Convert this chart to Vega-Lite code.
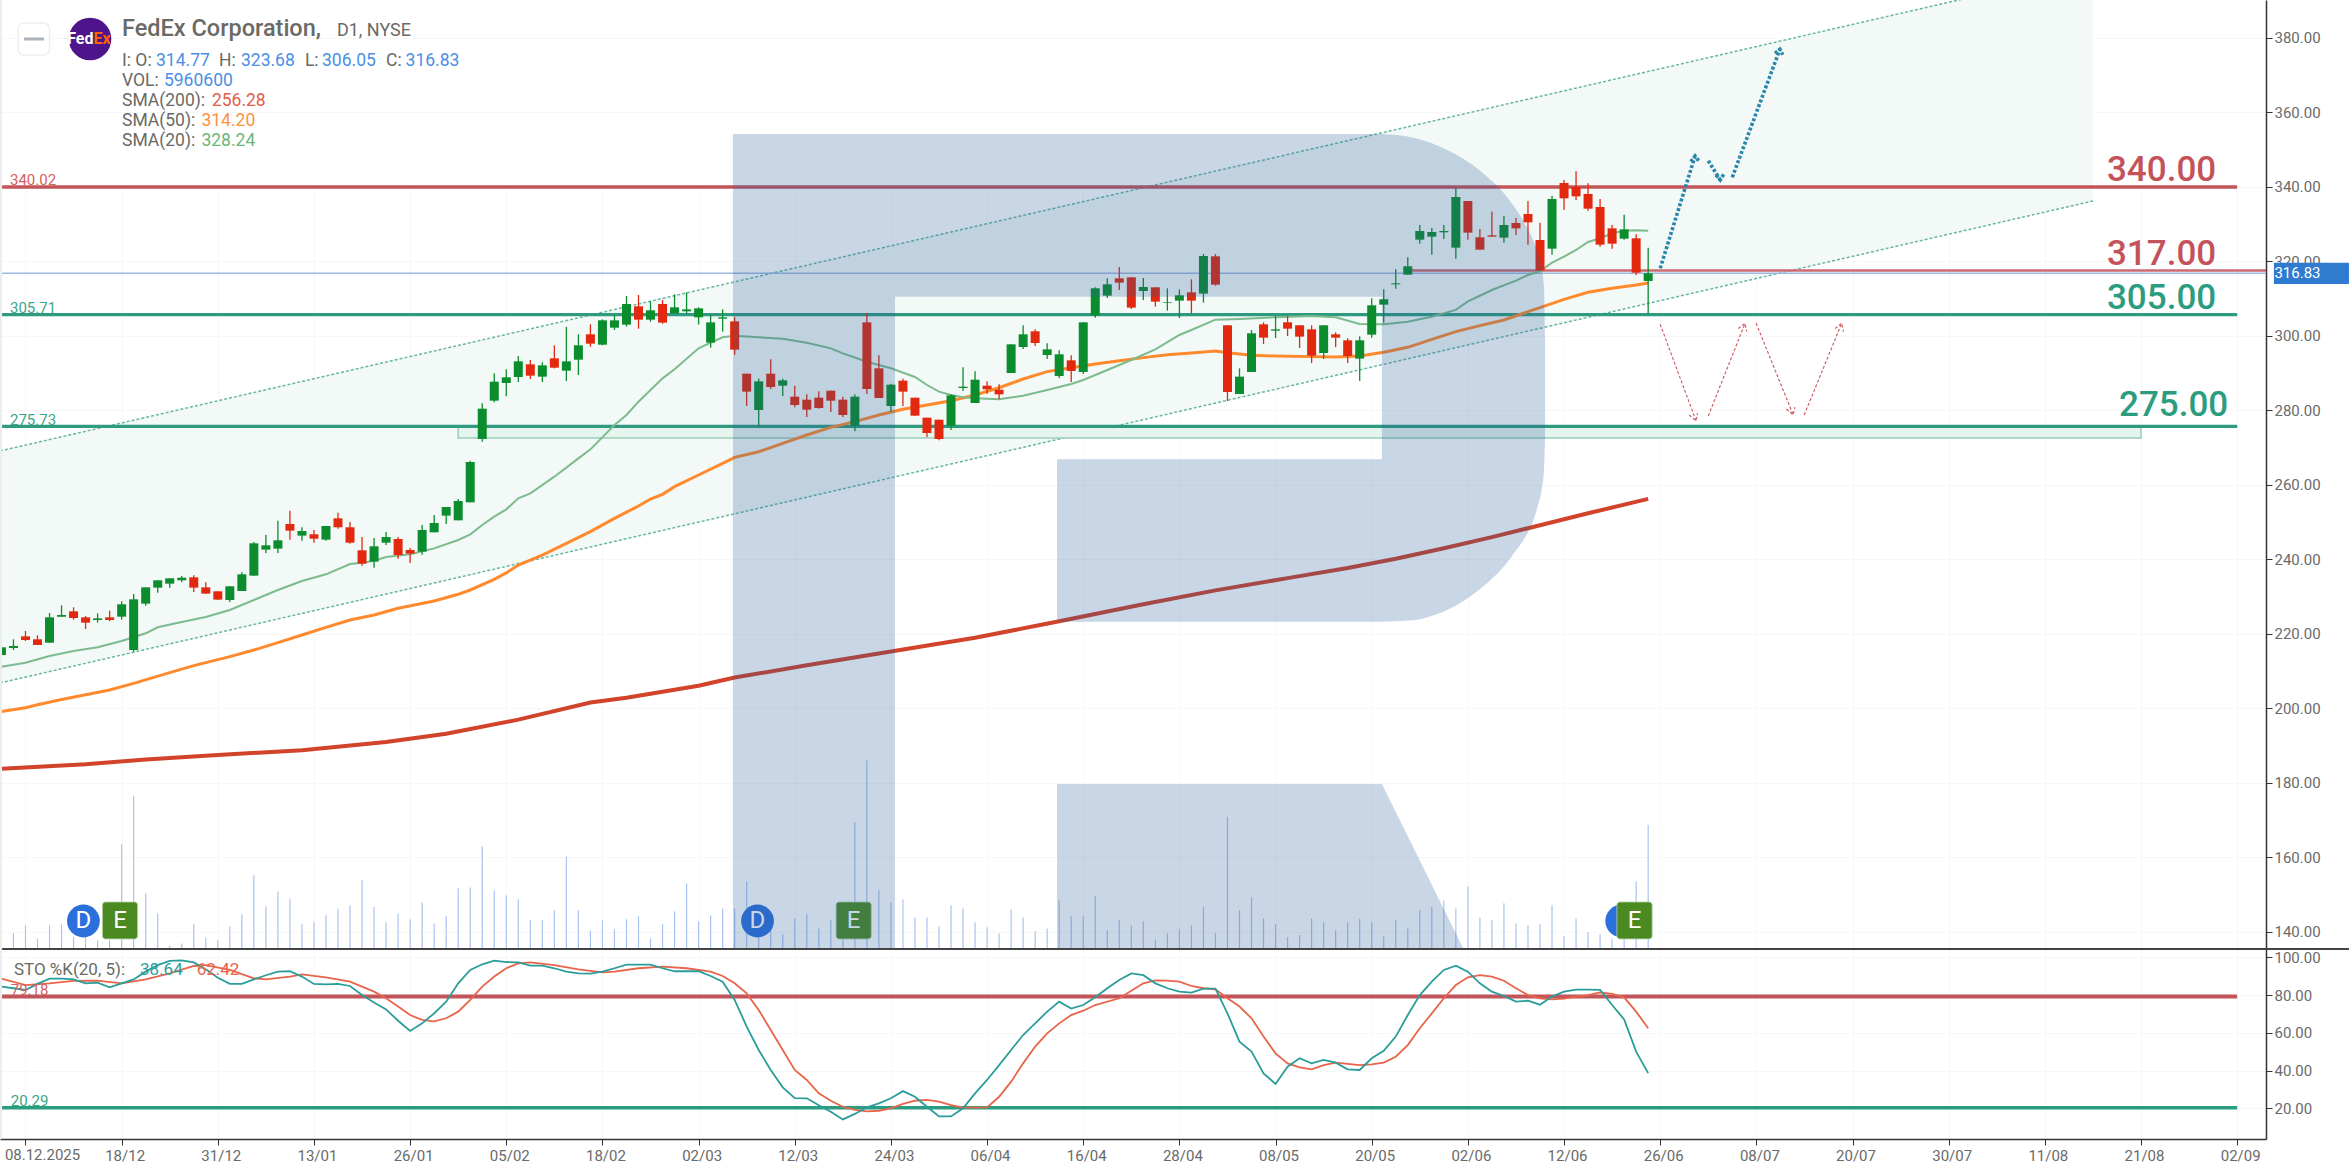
{
  "$schema": "https://vega.github.io/schema/vega-lite/v6.json",
  "autosize": {"type": "none"},
  "padding": {"left": 0, "top": 0, "right": 83, "bottom": 24},
  "background": "white",
  "width": 2266,
  "height": 1139,
  "config": {
    "view": {"stroke": null},
    "text": {"font": "Roboto"},
    "axis": {"labelFont": "Roboto", "labelFontSize": 15, "labelColor": "#6a6a6a", "domainColor": "#333333", "tickColor": "#333333", "gridColor": "#f7f7f7", "domainWidth": 1.5, "tickSize": 6}
  },
  "datasets": {
    "candles": [
      {"i":-2,"o":214.36,"h":216.6,"l":214.2,"c":216.42},
      {"i":-1,"o":216.24,"h":218.57,"l":215.7,"c":216.78,"v":0.77},
      {"i":0,"o":219.37,"h":220.81,"l":218.12,"c":218.39,"v":1.14},
      {"i":1,"o":218.57,"h":219.64,"l":217.05,"c":217.05,"v":0.5},
      {"i":2,"o":217.67,"h":225.64,"l":217.67,"c":224.47,"v":1.14},
      {"i":3,"o":224.65,"h":227.69,"l":224.65,"c":225.1,"v":1.18},
      {"i":4,"o":226.08,"h":227.16,"l":223.85,"c":224.29,"v":0.58},
      {"i":5,"o":224.47,"h":224.83,"l":221.34,"c":223.04,"v":1.06},
      {"i":6,"o":223.75,"h":225.55,"l":223.04,"c":224.2,"v":0.42},
      {"i":7,"o":224.47,"h":226.26,"l":223.49,"c":223.75,"v":0.42},
      {"i":8,"o":224.65,"h":228.77,"l":223.85,"c":227.96,"v":5.03},
      {"i":9,"o":215.7,"h":230.74,"l":215.25,"c":229.3,"v":7.34},
      {"i":10,"o":228.14,"h":232.52,"l":227.6,"c":232.52,"v":2.66},
      {"i":11,"o":232.44,"h":234.41,"l":231.09,"c":234.41,"v":1.7},
      {"i":12,"o":233.51,"h":234.94,"l":232.44,"c":234.94,"v":0.16},
      {"i":13,"o":234.41,"h":235.57,"l":233.87,"c":235.12,"v":0.26},
      {"i":14,"o":235.21,"h":235.75,"l":231.28,"c":232.44,"v":1.19},
      {"i":15,"o":232.52,"h":233.87,"l":230.83,"c":230.83,"v":0.54},
      {"i":16,"o":231.45,"h":231.45,"l":229.22,"c":229.22,"v":0.42},
      {"i":17,"o":229.13,"h":232.8,"l":228.59,"c":232.8,"v":1.09},
      {"i":18,"o":231.54,"h":236.55,"l":231.54,"c":236.02,"v":1.67},
      {"i":19,"o":235.66,"h":244.7,"l":235.66,"c":244.34,"v":3.54},
      {"i":20,"o":242.64,"h":246.58,"l":241.75,"c":243.8,"v":2.05},
      {"i":21,"o":242.91,"h":250.42,"l":241.75,"c":245.15,"v":2.77},
      {"i":22,"o":249.53,"h":253.11,"l":245.32,"c":247.74,"v":2.42},
      {"i":23,"o":246.4,"h":248.64,"l":245.06,"c":247.65,"v":1.19},
      {"i":24,"o":246.76,"h":247.92,"l":244.52,"c":245.59,"v":1.28},
      {"i":25,"o":245.32,"h":248.99,"l":245.06,"c":248.99,"v":1.62},
      {"i":26,"o":251.05,"h":252.57,"l":248.28,"c":248.64,"v":1.94},
      {"i":27,"o":248.64,"h":250.07,"l":244.25,"c":244.52,"v":2.1},
      {"i":28,"o":242.46,"h":246.04,"l":238.35,"c":238.88,"v":3.3},
      {"i":29,"o":239.42,"h":245.77,"l":237.81,"c":243.54,"v":2.02},
      {"i":30,"o":244.52,"h":247.38,"l":243.89,"c":246.04,"v":1.28},
      {"i":31,"o":245.5,"h":246.04,"l":240.22,"c":241.21,"v":1.7},
      {"i":32,"o":242.55,"h":243.09,"l":239.06,"c":241.57,"v":1.43},
      {"i":33,"o":242.1,"h":249.26,"l":241.3,"c":247.92,"v":2.24},
      {"i":34,"o":247.29,"h":251.95,"l":247.29,"c":249.8,"v":1.23},
      {"i":35,"o":251.77,"h":254.09,"l":249.53,"c":254.09,"v":1.57},
      {"i":36,"o":250.51,"h":256.24,"l":250.51,"c":255.7,"v":2.92},
      {"i":37,"o":255.35,"h":266.53,"l":255.35,"c":266.17,"v":2.96},
      {"i":38,"o":272.35,"h":281.92,"l":271.63,"c":280.49,"v":4.94},
      {"i":39,"o":282.64,"h":289.98,"l":282.19,"c":287.74,"v":2.82},
      {"i":40,"o":287.38,"h":291.05,"l":283.8,"c":288.9,"v":2.58},
      {"i":41,"o":288.99,"h":294.63,"l":287.65,"c":293.2,"v":2.39},
      {"i":42,"o":292.39,"h":293.55,"l":288.45,"c":289.35,"v":1.38},
      {"i":43,"o":289.08,"h":292.93,"l":287.65,"c":292.12,"v":1.38},
      {"i":44,"o":294,"h":297.49,"l":291.32,"c":291.49,"v":1.86},
      {"i":45,"o":290.69,"h":302.41,"l":287.91,"c":293.19,"v":4.45},
      {"i":46,"o":293.64,"h":300.44,"l":289.53,"c":297.49,"v":1.86},
      {"i":47,"o":300.44,"h":303.13,"l":297.13,"c":297.94,"v":0.9},
      {"i":48,"o":297.67,"h":304.47,"l":297.49,"c":304.2,"v":1.38},
      {"i":49,"o":302.23,"h":305.63,"l":301.61,"c":304.2,"v":0.95},
      {"i":50,"o":303.04,"h":310.73,"l":302.5,"c":308.59,"v":1.43},
      {"i":51,"o":307.96,"h":311,"l":301.96,"c":304.38,"v":1.57},
      {"i":52,"o":304.38,"h":309.3,"l":303.84,"c":306.89,"v":0.51},
      {"i":53,"o":308.59,"h":309.66,"l":303.31,"c":303.58,"v":1.19},
      {"i":54,"o":306.08,"h":311.18,"l":306.08,"c":307.69,"v":1.81},
      {"i":55,"o":306.62,"h":311.72,"l":306.08,"c":307.15,"v":3.16},
      {"i":56,"o":305.01,"h":307.69,"l":303.04,"c":307.42,"v":1.33},
      {"i":57,"o":298.21,"h":305.72,"l":296.86,"c":303.66,"v":1.62},
      {"i":58,"o":304.65,"h":307.15,"l":301.16,"c":305.01,"v":1.95},
      {"i":59,"o":303.93,"h":305.01,"l":294.98,"c":296.33,"v":1.95},
      {"i":60,"o":289.88,"h":289.88,"l":281.2,"c":285.05,"v":3.25},
      {"i":61,"o":280.13,"h":288.54,"l":275.83,"c":287.83,"v":1.22},
      {"i":62,"o":289.88,"h":293.73,"l":285.77,"c":286.3,"v":0.96},
      {"i":63,"o":286.66,"h":288.54,"l":283.89,"c":288.09,"v":0.71},
      {"i":64,"o":283.71,"h":286.66,"l":280.84,"c":281.47,"v":1.47},
      {"i":65,"o":282.9,"h":284.33,"l":278.25,"c":280.22,"v":1.67},
      {"i":66,"o":283.44,"h":285.14,"l":280.49,"c":280.67,"v":0.99},
      {"i":67,"o":285.32,"h":285.32,"l":279.59,"c":282.63,"v":1.38},
      {"i":68,"o":282.9,"h":283.71,"l":278.25,"c":278.79,"v":1.38},
      {"i":69,"o":275.92,"h":284.33,"l":274.4,"c":283.71,"v":6.09},
      {"i":70,"o":303.66,"h":306.08,"l":284.42,"c":285.77,"v":9.07},
      {"i":71,"o":291.32,"h":294.81,"l":283.35,"c":283.35,"v":2.82},
      {"i":72,"o":281.2,"h":287.2,"l":279.59,"c":286.93,"v":2.24},
      {"i":73,"o":288,"h":288.54,"l":281.2,"c":285.05,"v":2.39},
      {"i":74,"o":283.44,"h":283.44,"l":278.61,"c":278.61,"v":1.52},
      {"i":75,"o":278.07,"h":278.07,"l":272.88,"c":273.95,"v":1.52},
      {"i":76,"o":277.53,"h":277.53,"l":271.99,"c":272.34,"v":1.09},
      {"i":77,"o":275.92,"h":284.33,"l":274.76,"c":284.07,"v":2.1},
      {"i":78,"o":286.03,"h":291.58,"l":285.23,"c":286.39,"v":1.95},
      {"i":79,"o":282.01,"h":290.51,"l":282.01,"c":288.27,"v":1.28},
      {"i":80,"o":286.66,"h":287.83,"l":284.51,"c":285.68,"v":1.04},
      {"i":81,"o":285.59,"h":287.02,"l":282.99,"c":284.33,"v":0.75},
      {"i":82,"o":290.07,"h":297.76,"l":290.07,"c":297.76,"v":1.91},
      {"i":83,"o":297.05,"h":302.87,"l":296.51,"c":300.45,"v":1.52},
      {"i":84,"o":301.26,"h":301.79,"l":297.32,"c":298.12,"v":0.85},
      {"i":85,"o":294.9,"h":298.03,"l":293.83,"c":296.42,"v":0.99},
      {"i":86,"o":289.26,"h":296.15,"l":288.73,"c":295.08,"v":2.34},
      {"i":87,"o":293.47,"h":294.81,"l":287.65,"c":290.61,"v":1.57},
      {"i":88,"o":290.34,"h":303.67,"l":289.8,"c":303.67,"v":1.57},
      {"i":89,"o":305.55,"h":313.07,"l":304.92,"c":312.8,"v":2.53},
      {"i":90,"o":310.83,"h":315.48,"l":310.2,"c":313.87,"v":0.9},
      {"i":91,"o":315.48,"h":318.53,"l":312.35,"c":314.32,"v":1.38},
      {"i":92,"o":315.75,"h":315.75,"l":307.25,"c":307.61,"v":1.14},
      {"i":93,"o":312.08,"h":315.57,"l":309.67,"c":313.16,"v":1.33},
      {"i":94,"o":313.07,"h":313.07,"l":307.88,"c":309.22,"v":0.46},
      {"i":95,"o":308.95,"h":312.8,"l":306.8,"c":309.13,"v":0.75},
      {"i":96,"o":309.49,"h":312.53,"l":304.83,"c":310.92,"v":0.95},
      {"i":97,"o":311.73,"h":315.22,"l":306.09,"c":309.49,"v":1.14},
      {"i":98,"o":311.37,"h":322.02,"l":308.95,"c":321.48,"v":2.02},
      {"i":99,"o":321.39,"h":322.02,"l":313.52,"c":313.78,"v":0.77},
      {"i":100,"o":302.87,"h":302.87,"l":282.55,"c":284.97,"v":6.35},
      {"i":101,"o":284.43,"h":291.32,"l":284.43,"c":289.08,"v":1.86},
      {"i":102,"o":290.34,"h":301.61,"l":290.34,"c":300.72,"v":2.48},
      {"i":103,"o":303.13,"h":303.67,"l":297.85,"c":299.55,"v":1.47},
      {"i":104,"o":301.43,"h":305.37,"l":299.46,"c":301.79,"v":1.19},
      {"i":105,"o":303.67,"h":305.37,"l":300,"c":301.97,"v":0.56},
      {"i":106,"o":302.87,"h":302.87,"l":296.78,"c":299.82,"v":0.66},
      {"i":107,"o":301.79,"h":302.87,"l":292.75,"c":294.72,"v":1.47},
      {"i":108,"o":295.44,"h":302.87,"l":293.83,"c":302.87,"v":1.28},
      {"i":109,"o":300.45,"h":300.99,"l":297.05,"c":299.55,"v":0.9},
      {"i":110,"o":298.84,"h":299.38,"l":292.75,"c":294.63,"v":1.28},
      {"i":111,"o":293.92,"h":299.91,"l":287.92,"c":298.84,"v":1.47},
      {"i":112,"o":300.36,"h":310.11,"l":299.55,"c":308.24,"v":1.28},
      {"i":113,"o":308.41,"h":312.53,"l":303.58,"c":309.85,"v":0.61},
      {"i":114,"o":313.87,"h":317.9,"l":312.71,"c":314.14,"v":1.38},
      {"i":115,"o":316.47,"h":321.12,"l":316.47,"c":318.71,"v":0.99},
      {"i":116,"o":325.86,"h":329.8,"l":324.79,"c":328.19,"v":1.86},
      {"i":117,"o":326.67,"h":328.99,"l":321.83,"c":327.92,"v":2.02},
      {"i":118,"o":327.83,"h":329.8,"l":326.04,"c":328.19,"v":2.34},
      {"i":119,"o":323.71,"h":339.73,"l":320.76,"c":337.32,"v":1.95},
      {"i":120,"o":336.24,"h":336.24,"l":325.86,"c":327.74,"v":3.01},
      {"i":121,"o":326.49,"h":328.72,"l":323.18,"c":323.18,"v":1.52},
      {"i":122,"o":327.02,"h":333.38,"l":326.67,"c":326.67,"v":1.38},
      {"i":123,"o":326.4,"h":332.21,"l":325.05,"c":329.8,"v":2.2},
      {"i":124,"o":330.34,"h":331.68,"l":327.11,"c":328.9,"v":1.23},
      {"i":125,"o":332.75,"h":336.24,"l":324.52,"c":330.51,"v":1.14},
      {"i":126,"o":325.77,"h":330.42,"l":317.54,"c":317.54,"v":1.19},
      {"i":127,"o":323.44,"h":337.67,"l":321.83,"c":336.78,"v":2.1},
      {"i":128,"o":341.07,"h":341.88,"l":333.83,"c":336.96,"v":0.61},
      {"i":129,"o":340,"h":344.21,"l":336.51,"c":337.49,"v":1.47},
      {"i":130,"o":338.12,"h":340.98,"l":333.65,"c":334.18,"v":0.8},
      {"i":131,"o":334.63,"h":336.78,"l":323.98,"c":324.52,"v":0.71},
      {"i":132,"o":328.9,"h":329.8,"l":323.44,"c":324.79,"v":0.5},
      {"i":133,"o":326.13,"h":332.57,"l":325.86,"c":328.63,"v":0.9},
      {"i":134,"o":326.22,"h":327.29,"l":316.37,"c":317,"v":3.25},
      {"i":135,"o":314.77,"h":323.68,"l":306.05,"c":316.83,"v":5.96}
    ],
    "sma20": [
      {"i":-2,"p":211.2},{"i":0,"p":212.3},{"i":2,"p":214.09},{"i":4,"p":215.43},{"i":6,"p":216.42},{"i":8,"p":218.12},{"i":10,"p":220.18},{"i":11,"p":221.79},{"i":13,"p":223.22},{"i":15,"p":224.56},{"i":17,"p":226.44},{"i":18,"p":227.78},{"i":19,"p":229.12},{"i":21,"p":231.81},{"i":23,"p":234.23},{"i":25,"p":236.02},{"i":27,"p":238.79},{"i":28,"p":239.15},{"i":29,"p":239.68},{"i":30,"p":240.67},{"i":32,"p":241.38},{"i":34,"p":242.99},{"i":36,"p":245.23},{"i":37,"p":246.75},{"i":38,"p":249.26},{"i":39,"p":251.5},{"i":40,"p":253.46},{"i":41,"p":256.42},{"i":42,"p":257.76},{"i":44,"p":262.23},{"i":46,"p":267.15},{"i":47,"p":269.57},{"i":49,"p":276.1},{"i":50,"p":278.79},{"i":51,"p":282.37},{"i":52,"p":285.5},{"i":53,"p":288.63},{"i":54,"p":291.05},{"i":56,"p":296.68},{"i":57,"p":298.21},{"i":58,"p":299.64},{"i":59,"p":300.09},{"i":61,"p":299.64},{"i":63,"p":299.28},{"i":65,"p":298.21},{"i":67,"p":296.68},{"i":68,"p":295.34},{"i":70,"p":293.1},{"i":72,"p":291.32},{"i":74,"p":288.99},{"i":75,"p":286.84},{"i":76,"p":285.05},{"i":77,"p":284.16},{"i":78,"p":283.53},{"i":79,"p":283.26},{"i":81,"p":282.99},{"i":83,"p":283.98},{"i":85,"p":285.5},{"i":87,"p":287.12},{"i":88,"p":288.19},{"i":90,"p":290.87},{"i":92,"p":293.56},{"i":94,"p":296.42},{"i":96,"p":300.27},{"i":97,"p":301.61},{"i":99,"p":304.39},{"i":101,"p":304.57},{"i":104,"p":305.01},{"i":107,"p":305.37},{"i":109,"p":305.01},{"i":111,"p":303.22},{"i":113,"p":303.13},{"i":115,"p":303.85},{"i":117,"p":305.19},{"i":119,"p":307},{"i":120,"p":309.3},{"i":121,"p":310.8},{"i":122,"p":312.35},{"i":124,"p":314.85},{"i":125,"p":316.38},{"i":126,"p":317.36},{"i":127,"p":319.69},{"i":128,"p":321.3},{"i":129,"p":323.09},{"i":130,"p":325.23},{"i":131,"p":326.22},{"i":132,"p":327.56},{"i":133,"p":328.28},{"i":134,"p":328.37},{"i":135,"p":328.24}
    ],
    "sma50": [
      {"i":-2,"p":199.2},{"i":0,"p":200.2},{"i":1,"p":201},{"i":3,"p":202.4},{"i":5,"p":203.7},{"i":7,"p":204.96},{"i":9,"p":206.75},{"i":12,"p":209.62},{"i":14,"p":211.5},{"i":17,"p":213.91},{"i":19,"p":215.7},{"i":21,"p":217.67},{"i":23,"p":219.73},{"i":25,"p":221.79},{"i":27,"p":223.75},{"i":29,"p":225.1},{"i":31,"p":226.89},{"i":34,"p":228.86},{"i":36,"p":230.65},{"i":37,"p":231.81},{"i":39,"p":234.67},{"i":40,"p":236.4},{"i":41,"p":238.52},{"i":43,"p":241.2},{"i":45,"p":244.33},{"i":47,"p":247.47},{"i":49,"p":251.04},{"i":51,"p":254.36},{"i":52,"p":256.23},{"i":53,"p":257.49},{"i":54,"p":259.55},{"i":56,"p":262.68},{"i":58,"p":265.81},{"i":59,"p":267.42},{"i":61,"p":268.94},{"i":63,"p":271.18},{"i":65,"p":273.42},{"i":67,"p":275.47},{"i":69,"p":277},{"i":71,"p":278.79},{"i":73,"p":280.31},{"i":75,"p":281.47},{"i":77,"p":282.63},{"i":79,"p":284.16},{"i":81,"p":286.1},{"i":83,"p":288.46},{"i":85,"p":290.43},{"i":87,"p":291.5},{"i":89,"p":292.49},{"i":91,"p":293.38},{"i":93,"p":294.19},{"i":95,"p":294.99},{"i":97,"p":295.44},{"i":99,"p":295.98},{"i":100,"p":295.53},{"i":102,"p":294.81},{"i":104,"p":294.63},{"i":107,"p":294.46},{"i":109,"p":294.36},{"i":111,"p":294.63},{"i":113,"p":295.62},{"i":115,"p":296.96},{"i":117,"p":299.11},{"i":119,"p":301.17},{"i":121,"p":302.78},{"i":123,"p":304.29},{"i":125,"p":306.53},{"i":126,"p":307.6},{"i":128,"p":309.84},{"i":130,"p":311.72},{"i":132,"p":312.79},{"i":134,"p":313.69},{"i":135,"p":314.2}
    ],
    "sma200": [
      {"i":-2,"p":183.8},{"i":5,"p":185},{"i":10,"p":186.3},{"i":16,"p":187.5},{"i":23,"p":188.8},{"i":30,"p":191},{"i":35,"p":193.2},{"i":41,"p":197},{"i":47,"p":201.6},{"i":50,"p":202.9},{"i":56,"p":206.1},{"i":59,"p":208.3},{"i":65,"p":211.6},{"i":72,"p":215.3},{"i":79,"p":219},{"i":86,"p":223.4},{"i":93,"p":228},{"i":99,"p":231.7},{"i":105,"p":235},{"i":110,"p":237.7},{"i":114,"p":240.2},{"i":118,"p":243},{"i":122,"p":246},{"i":125,"p":248.4},{"i":130,"p":252.4},{"i":135,"p":256.28}
    ],
    "stochK": [
      {"i":-2,"p":84.5},{"i":-1,"p":83.6},{"i":0,"p":82.7},{"i":1,"p":85.9},{"i":2,"p":88.7},{"i":3,"p":88.7},{"i":4,"p":88.3},{"i":5,"p":86.2},{"i":6,"p":86.6},{"i":7,"p":84.1},{"i":8,"p":86.2},{"i":9,"p":88.3},{"i":10,"p":92.4},{"i":11,"p":95.9},{"i":12,"p":98.1},{"i":13,"p":98.4},{"i":14,"p":97.3},{"i":15,"p":93.6},{"i":16,"p":89.2},{"i":17,"p":85.9},{"i":18,"p":85.9},{"i":19,"p":88.3},{"i":20,"p":90.5},{"i":21,"p":92.4},{"i":22,"p":92.6},{"i":23,"p":89.8},{"i":24,"p":85.9},{"i":25,"p":85.7},{"i":26,"p":85.9},{"i":27,"p":84.8},{"i":28,"p":80},{"i":29,"p":76.1},{"i":30,"p":72.4},{"i":31,"p":66.4},{"i":32,"p":61},{"i":33,"p":65},{"i":34,"p":70.3},{"i":35,"p":76.5},{"i":36,"p":86.2},{"i":37,"p":93.3},{"i":38,"p":96.3},{"i":39,"p":98.2},{"i":40,"p":97.5},{"i":41,"p":97.3},{"i":42,"p":95.6},{"i":43,"p":95.6},{"i":44,"p":94.2},{"i":45,"p":92.4},{"i":46,"p":91.5},{"i":47,"p":91.3},{"i":48,"p":92.4},{"i":49,"p":94.2},{"i":50,"p":96.1},{"i":51,"p":96.1},{"i":52,"p":96.1},{"i":53,"p":94.2},{"i":54,"p":92.6},{"i":55,"p":92.6},{"i":56,"p":92.6},{"i":57,"p":90.1},{"i":58,"p":87.1},{"i":59,"p":77.4},{"i":60,"p":63.3},{"i":61,"p":50.9},{"i":62,"p":40.3},{"i":63,"p":31.1},{"i":64,"p":25.4},{"i":65,"p":25.3},{"i":66,"p":21.6},{"i":67,"p":18.2},{"i":68,"p":14.1},{"i":69,"p":17},{"i":70,"p":20.5},{"i":71,"p":22.6},{"i":72,"p":25.3},{"i":73,"p":29.1},{"i":74,"p":26.1},{"i":75,"p":20.8},{"i":76,"p":15.7},{"i":77,"p":15.7},{"i":78,"p":20},{"i":79,"p":27.9},{"i":80,"p":35},{"i":81,"p":42.9},{"i":82,"p":50.9},{"i":83,"p":58.8},{"i":84,"p":65},{"i":85,"p":71.2},{"i":86,"p":76.5},{"i":87,"p":72.8},{"i":88,"p":74.7},{"i":89,"p":78.8},{"i":90,"p":83.6},{"i":91,"p":88},{"i":92,"p":91.5},{"i":93,"p":90.5},{"i":94,"p":86.2},{"i":95,"p":83.6},{"i":96,"p":81.8},{"i":97,"p":81.3},{"i":98,"p":83.4},{"i":99,"p":83.4},{"i":100,"p":70.3},{"i":101,"p":55.3},{"i":102,"p":50},{"i":103,"p":38.5},{"i":104,"p":32.9},{"i":105,"p":42},{"i":106,"p":46.5},{"i":107,"p":43.8},{"i":108,"p":45.6},{"i":109,"p":44.2},{"i":110,"p":40.6},{"i":111,"p":40.3},{"i":112,"p":46.5},{"i":113,"p":50.5},{"i":114,"p":58},{"i":115,"p":69.4},{"i":116,"p":80},{"i":117,"p":87.1},{"i":118,"p":93.3},{"i":119,"p":95.6},{"i":120,"p":92.4},{"i":121,"p":86.2},{"i":122,"p":81.8},{"i":123,"p":79.5},{"i":124,"p":76.5},{"i":125,"p":77},{"i":126,"p":74.9},{"i":127,"p":79.2},{"i":128,"p":81.8},{"i":129,"p":82.9},{"i":130,"p":82.9},{"i":131,"p":82.7},{"i":132,"p":74.7},{"i":133,"p":67.1},{"i":134,"p":50},{"i":135,"p":38.64}
    ],
    "stochD": [
      {"i":-2,"p":88.7},{"i":0,"p":85.3},{"i":2,"p":86.2},{"i":4,"p":87.5},{"i":6,"p":87.6},{"i":8,"p":86.2},{"i":10,"p":88.3},{"i":12,"p":91.5},{"i":14,"p":95.4},{"i":15,"p":95.9},{"i":17,"p":93.3},{"i":19,"p":88.9},{"i":20,"p":88.3},{"i":22,"p":89.8},{"i":23,"p":91},{"i":25,"p":89.4},{"i":27,"p":87.1},{"i":29,"p":81.8},{"i":30,"p":78.3},{"i":31,"p":73.9},{"i":32,"p":69.4},{"i":33,"p":66.8},{"i":34,"p":66.1},{"i":35,"p":67.7},{"i":36,"p":71.2},{"i":37,"p":77.4},{"i":38,"p":84.5},{"i":39,"p":89.8},{"i":40,"p":94.2},{"i":41,"p":96.8},{"i":42,"p":97.3},{"i":44,"p":95.9},{"i":46,"p":93.6},{"i":48,"p":92},{"i":49,"p":92.4},{"i":51,"p":94.2},{"i":53,"p":95.1},{"i":55,"p":94.2},{"i":57,"p":92.4},{"i":58,"p":90.1},{"i":59,"p":86.2},{"i":60,"p":80.9},{"i":61,"p":72.1},{"i":62,"p":61.5},{"i":63,"p":50.9},{"i":64,"p":40.3},{"i":65,"p":35},{"i":66,"p":27.9},{"i":67,"p":24},{"i":68,"p":20.8},{"i":69,"p":19.1},{"i":70,"p":18.4},{"i":71,"p":18.7},{"i":72,"p":20},{"i":73,"p":22.3},{"i":74,"p":24},{"i":75,"p":24.4},{"i":76,"p":23.5},{"i":77,"p":21.7},{"i":78,"p":20.3},{"i":80,"p":20.5},{"i":81,"p":26.1},{"i":82,"p":34.1},{"i":83,"p":43.8},{"i":84,"p":52.7},{"i":85,"p":59.7},{"i":86,"p":65},{"i":87,"p":69.4},{"i":88,"p":71.7},{"i":89,"p":74.7},{"i":91,"p":78.3},{"i":92,"p":82.3},{"i":93,"p":86.2},{"i":94,"p":87.8},{"i":95,"p":87.6},{"i":96,"p":87.1},{"i":97,"p":84.8},{"i":98,"p":83.6},{"i":99,"p":83},{"i":100,"p":78.3},{"i":101,"p":73.9},{"i":102,"p":67.7},{"i":103,"p":58},{"i":104,"p":49.1},{"i":105,"p":43.8},{"i":106,"p":41.7},{"i":107,"p":40.6},{"i":108,"p":42.9},{"i":109,"p":44.2},{"i":110,"p":43.5},{"i":111,"p":42.9},{"i":112,"p":43.3},{"i":113,"p":44.2},{"i":114,"p":47.3},{"i":115,"p":53.5},{"i":116,"p":62.4},{"i":117,"p":70.3},{"i":118,"p":78.3},{"i":119,"p":85.3},{"i":120,"p":89.4},{"i":121,"p":90.6},{"i":122,"p":89.8},{"i":123,"p":87.6},{"i":124,"p":83.6},{"i":125,"p":80},{"i":126,"p":78.3},{"i":127,"p":77.7},{"i":128,"p":78.1},{"i":129,"p":79.2},{"i":130,"p":80},{"i":131,"p":81.4},{"i":132,"p":80.6},{"i":133,"p":78.8},{"i":134,"p":71.2},{"i":135,"p":62.42}
    ],
    "logoR": [
      {"part":"stem","i":58.86,"p":354.23,"p2":135.5},{"part":"stem","i":72.34,"p":354.23,"p2":135.5},
      {"part":"top","i":72.34,"p":354.23,"p2":310.55},{"part":"top","i":112.85,"p":354.23,"p2":310.55},
      {"part":"lower","i":85.82,"p":266.9,"p2":223.3},{"part":"lower","i":112.85,"p":266.9,"p2":223.3},
      {"part":"leg","i":85.82,"p":179.73,"p2":135.5},{"part":"leg","i":112.85,"p":179.73,"p2":135.5},{"part":"leg","i":119.63,"p":135.5,"p2":135.5}
    ],
    "logoBowl": [
      {"i":112.85,"p":354.23,"p2":223.3},{"i":115.2,"p":353.4,"p2":223.6},{"i":117.68,"p":350.82,"p2":225.64},{"i":119.2,"p":348.4,"p2":228},{"i":120.59,"p":345.45,"p2":231},{"i":122,"p":341.6,"p2":234.8},{"i":122.98,"p":338.39,"p2":238.07},{"i":124,"p":334,"p2":242.4},{"i":124.88,"p":329.34,"p2":246.58},{"i":125.4,"p":326,"p2":250},{"i":125.83,"p":322.28,"p2":254.63},{"i":126.15,"p":318,"p2":259},{"i":126.33,"p":313.15,"p2":264},{"i":126.42,"p":298.93,"p2":272.08}
    ]
  },
  "resolve": {"scale": {"y": "independent"}},
  "encoding": {
    "x": {"field": "i", "type": "quantitative", "title": null, "scale": {"domain": [-2.12, 186.4], "nice": false, "zero": false, "padding": 0}, "axis": {"values": [0,8,16,24,32,40,48,56,64,72,80,88,96,104,112,120,128,136,144,152,160,168,176,184], "labelExpr": "['','18/12','31/12','13/01','26/01','05/02','18/02','02/03','12/03','24/03','06/04','16/04','28/04','08/05','20/05','02/06','12/06','26/06','08/07','20/07','30/07','11/08','21/08','02/09'][datum.value / 8]", "labelOverlap": false, "labelPadding": 3, "labelOffset": 3, "grid": true}}
  },
  "layer": [
    {
      "encoding": {
        "y": {"field": "p", "type": "quantitative", "title": null, "scale": {"domain": [135.43, 390.2], "range": [949, 0], "nice": false, "zero": false}, "axis": {"orient": "right", "values": [140,160,180,200,220,240,260,280,300,320,340,360,380], "format": ".2f", "grid": true, "labelPadding": 2}}
      },
      "layer": [
        {
          "data": {"values": [{"i":-2.12,"p":269.13,"p2":206.85},{"i":172,"p":398.5,"p2":336.24}]},
          "mark": {"type": "area", "orient": "vertical", "color": "#f3f9f6", "clip": true},
          "encoding": {"y2": {"field": "p2"}}
        },
        {
          "data": {"values": [{"line":"up","i":-2.12,"p":269.13},{"line":"up","i":172,"p":398.5},{"line":"low","i":-2.12,"p":206.85},{"line":"low","i":172,"p":336.24}]},
          "mark": {"type": "line", "color": "#68b7a5", "strokeWidth": 1.5, "strokeDash": [3, 2], "clip": true},
          "encoding": {"detail": {"field": "line"}}
        },
        {
          "data": {"values": [{"i":36,"i2":176,"p":275.73,"p2":272.6}]},
          "mark": {"type": "rect", "fill": "#e6f4ee", "stroke": "#9ccdbb", "strokeWidth": 1.5},
          "encoding": {"x2": {"field": "i2"}, "y2": {"field": "p2"}}
        },
        {
          "data": {"values": [{"i":-1.95,"i2":184,"p":340.02}]},
          "mark": {"type": "rule", "color": "#c2555a", "strokeWidth": 3.5},
          "encoding": {"x2": {"field": "i2"}}
        },
        {
          "data": {"values": [{"i":-1.95,"i2":184,"p":305.71},{"i":-1.95,"i2":184,"p":275.73}]},
          "mark": {"type": "rule", "color": "#2e9a80", "strokeWidth": 3.2},
          "encoding": {"x2": {"field": "i2"}}
        },
        {
          "data": {"values": [{"i":-1.95,"i2":186.4,"p":316.83}]},
          "mark": {"type": "rule", "color": "#9db9e4", "strokeWidth": 1.4},
          "encoding": {"x2": {"field": "i2"}}
        },
        {
          "data": {"values": [{"i":115,"i2":186.4,"p":317.6}]},
          "mark": {"type": "rule", "color": "#cb6a70", "strokeWidth": 2.6},
          "encoding": {"x2": {"field": "i2"}}
        },
        {
          "data": {"name": "sma200"},
          "mark": {"type": "line", "color": "#d1432a", "strokeWidth": 4}
        },
        {
          "data": {"name": "sma50"},
          "mark": {"type": "line", "color": "#ff8a2e", "strokeWidth": 3}
        },
        {
          "data": {"name": "sma20"},
          "mark": {"type": "line", "color": "#7cbb8e", "strokeWidth": 2}
        },
        {
          "data": {"name": "candles"},
          "mark": {"type": "rule", "strokeWidth": 1.3, "clip": true},
          "encoding": {
            "y": {"field": "l", "type": "quantitative", "title": null, "scale": {"domain": [135.43, 390.2], "range": [949, 0], "nice": false, "zero": false}},
            "y2": {"field": "h"},
            "color": {"condition": {"test": "datum.c >= datum.o", "value": "#0b8c2d"}, "value": "#e2290f"}
          }
        },
        {
          "data": {"name": "candles"},
          "mark": {"type": "bar", "size": 9, "orient": "vertical", "clip": true},
          "encoding": {
            "y": {"field": "o", "type": "quantitative", "title": null, "scale": {"domain": [135.43, 390.2], "range": [949, 0], "nice": false, "zero": false}},
            "y2": {"field": "c"},
            "color": {"condition": {"test": "datum.c >= datum.o", "value": "#0b8c2d"}, "value": "#e2290f"}
          }
        },
        {
          "data": {"values": [
            {"seg":"a","i":136,"p":318.17},{"seg":"a","i":138.9,"p":348.32},
            {"seg":"ah","i":138.55,"p":346.8},{"seg":"ah","i":138.9,"p":348.32},{"seg":"ah","i":139.25,"p":346.8},
            {"seg":"b","i":140,"p":347.06},{"seg":"b","i":141,"p":341.88},
            {"seg":"bh","i":140.65,"p":343.2},{"seg":"bh","i":141,"p":341.88},{"seg":"bh","i":141.3,"p":343.5},
            {"seg":"c","i":142,"p":342.6},{"seg":"c","i":145.96,"p":376.97},
            {"seg":"ch","i":145.55,"p":375.9},{"seg":"ch","i":145.96,"p":376.97},{"seg":"ch","i":146.2,"p":375.5}
          ]},
          "mark": {"type": "line", "color": "#2a86ad", "strokeWidth": 3.6, "strokeDash": [3, 2]},
          "encoding": {"detail": {"field": "seg"}}
        },
        {
          "data": {"values": [
            {"seg":"a","i":136,"p":303.14},{"seg":"a","i":138.98,"p":277.26},
            {"seg":"ah","i":138.4,"p":278.8},{"seg":"ah","i":138.98,"p":277.26},{"seg":"ah","i":139.1,"p":279.3},
            {"seg":"b","i":140,"p":278.52},{"seg":"b","i":143.06,"p":303.41},
            {"seg":"bh","i":142.5,"p":302},{"seg":"bh","i":143.06,"p":303.41},{"seg":"bh","i":143.2,"p":301.2},
            {"seg":"c","i":143.98,"p":303.41},{"seg":"c","i":147.07,"p":278.79},
            {"seg":"ch","i":146.5,"p":280.4},{"seg":"ch","i":147.07,"p":278.79},{"seg":"ch","i":147.2,"p":280.9},
            {"seg":"d","i":147.98,"p":278.79},{"seg":"d","i":151.1,"p":303.41},
            {"seg":"dh","i":150.55,"p":302},{"seg":"dh","i":151.1,"p":303.41},{"seg":"dh","i":151.25,"p":301.2}
          ]},
          "mark": {"type": "line", "color": "#cf6069", "strokeWidth": 1.2, "strokeDash": [3, 2]},
          "encoding": {"detail": {"field": "seg"}}
        }
      ]
    },
    {
      "data": {"name": "candles"},
      "mark": {"type": "rule", "color": "#a9c4f0", "strokeWidth": 1.2},
      "encoding": {
        "y": {"field": "v", "type": "quantitative", "title": null, "scale": {"domain": [0, 45.62], "range": [949, 0], "nice": false}, "axis": null},
        "y2": {"datum": 0}
      }
    },
    {
      "encoding": {
        "y": {"field": "p", "type": "quantitative", "title": null, "scale": {"domain": [135.43, 390.2], "range": [949, 0], "nice": false, "zero": false}, "axis": null}
      },
      "layer": [
        {
          "data": {"values": [{"i":4.82,"p":142.95},{"i":60.9,"p":142.95},{"i":132.8,"p":142.95}]},
          "mark": {"type": "point", "shape": "circle", "filled": true, "opacity": 1, "size": 1075, "color": "#2b6fdb"}
        },
        {
          "data": {"values": [{"i":6.4,"i2":9.33,"p":148.05,"p2":138.13},{"i":67.44,"i2":70.36,"p":148.05,"p2":138.13},{"i":132.4,"i2":135.33,"p":148.05,"p2":138.13}]},
          "mark": {"type": "rect", "fill": "#4a8a20", "stroke": "#b9d3a8", "strokeWidth": 0.8, "cornerRadius": 3},
          "encoding": {"x2": {"field": "i2"}, "y2": {"field": "p2"}}
        },
        {
          "data": {"values": [{"i":4.82,"p":142.95,"t":"D"},{"i":60.9,"p":142.95,"t":"D"},{"i":7.86,"p":142.95,"t":"E"},{"i":68.9,"p":142.95,"t":"E"},{"i":133.86,"p":142.95,"t":"E"}]},
          "mark": {"type": "text", "color": "#ffffff", "fontSize": 24, "align": "center", "baseline": "middle"},
          "encoding": {"text": {"field": "t"}}
        },
        {
          "data": {"name": "logoR"},
          "mark": {"type": "area", "orient": "vertical", "color": "#285c9c", "opacity": 0.25},
          "encoding": {"y2": {"field": "p2"}, "detail": {"field": "part"}}
        },
        {
          "data": {"name": "logoBowl"},
          "mark": {"type": "area", "orient": "vertical", "color": "#285c9c", "opacity": 0.25, "interpolate": "monotone"},
          "encoding": {"y2": {"field": "p2"}}
        },
        {
          "data": {"values": [{"i":-1.95,"i2":193.3,"p":135.43}]},
          "mark": {"type": "rule", "color": "#444444", "strokeWidth": 2},
          "encoding": {"x2": {"field": "i2"}}
        },
        {
          "data": {"values": [{"i":-2.12,"i2":-1.95,"p":390.2,"p2":135.43}]},
          "mark": {"type": "rect", "fill": "#eceeee"},
          "encoding": {"x2": {"field": "i2"}, "y2": {"field": "p2"}}
        },
        {
          "data": {"values": [{"i":187.06,"i2":193.3,"p":319.68,"p2":313.96}]},
          "mark": {"type": "rect", "fill": "#2e7bd0"},
          "encoding": {"x2": {"field": "i2"}, "y2": {"field": "p2"}}
        },
        {
          "data": {"values": [{"i":187.1,"p":316.83,"t":"316.83"}]},
          "mark": {"type": "text", "color": "#ffffff", "fontSize": 15, "align": "left", "baseline": "middle"},
          "encoding": {"text": {"field": "t"}}
        },
        {
          "data": {"values": [{"i":173.17,"p":344.56,"t":"340.00"},{"i":173.17,"p":322.01,"t":"317.00"}]},
          "mark": {"type": "text", "color": "#c4525a", "fontSize": 35, "fontWeight": 500, "align": "left", "baseline": "middle"},
          "encoding": {"text": {"field": "t"}}
        },
        {
          "data": {"values": [{"i":173.17,"p":310.28,"t":"305.00"},{"i":174.17,"p":281.48,"t":"275.00"}]},
          "mark": {"type": "text", "color": "#2c9c80", "fontSize": 35, "fontWeight": 500, "align": "left", "baseline": "middle"},
          "encoding": {"text": {"field": "t"}}
        },
        {
          "data": {"values": [{"i":-1.29,"p":341.88,"t":"340.02"}]},
          "mark": {"type": "text", "color": "#d4605f", "fontSize": 15, "align": "left", "baseline": "middle"},
          "encoding": {"text": {"field": "t"}}
        },
        {
          "data": {"values": [{"i":-1.29,"p":307.52,"t":"305.71"},{"i":-1.29,"p":277.45,"t":"275.73"}]},
          "mark": {"type": "text", "color": "#3aa68c", "fontSize": 15, "align": "left", "baseline": "middle"},
          "encoding": {"text": {"field": "t"}}
        },
        {
          "data": {"values": [{"i":-0.62,"i2":2,"p":384.03,"p2":375.44}]},
          "mark": {"type": "rect", "fill": "#ffffff", "stroke": "#eeeeee", "strokeWidth": 1.5, "cornerRadius": 6},
          "encoding": {"x2": {"field": "i2"}, "y2": {"field": "p2"}}
        },
        {
          "data": {"values": [{"i":-0.12,"i2":1.54,"p":379.73}]},
          "mark": {"type": "rule", "color": "#aab2bb", "strokeWidth": 3},
          "encoding": {"x2": {"field": "i2"}}
        },
        {
          "data": {"values": [{"i":5.37,"p":379.73}]},
          "mark": {"type": "point", "shape": "circle", "filled": true, "opacity": 1, "size": 1810, "color": "#4d148c"}
        },
        {
          "data": {"values": [{"i":5.65,"p":379.73,"t":"Fed"}]},
          "mark": {"type": "text", "color": "#ffffff", "fontSize": 16, "fontWeight": 700, "align": "right", "baseline": "middle"},
          "encoding": {"text": {"field": "t"}}
        },
        {
          "data": {"values": [{"i":5.65,"p":379.73,"t":"Ex"}]},
          "mark": {"type": "text", "color": "#ff6200", "fontSize": 16, "fontWeight": 700, "align": "left", "baseline": "middle"},
          "encoding": {"text": {"field": "t"}}
        },
        {
          "data": {"values": [{"i":8.03,"p":382.42,"t":"FedEx Corporation,"}]},
          "mark": {"type": "text", "color": "#6a6a64", "fontSize": 23.5, "fontWeight": 500, "align": "left", "baseline": "middle"},
          "encoding": {"text": {"field": "t"}}
        },
        {
          "data": {"values": [{"i":25.91,"p":381.88,"t":"D1, NYSE"}]},
          "mark": {"type": "text", "color": "#6a6a64", "fontSize": 18, "align": "left", "baseline": "middle"},
          "encoding": {"text": {"field": "t"}}
        },
        {
          "data": {"values": [
            {"i":8.03,"p":373.83,"t":"I: O:","tone":"label"},{"i":10.86,"p":373.83,"t":"314.77","tone":"value"},
            {"i":16.1,"p":373.83,"t":"H:","tone":"label"},{"i":17.93,"p":373.83,"t":"323.68","tone":"value"},
            {"i":23.25,"p":373.83,"t":"L:","tone":"label"},{"i":24.67,"p":373.83,"t":"306.05","tone":"value"},
            {"i":30,"p":373.83,"t":"C:","tone":"label"},{"i":31.62,"p":373.83,"t":"316.83","tone":"value"},
            {"i":8.03,"p":368.46,"t":"VOL:","tone":"label"},{"i":11.52,"p":368.46,"t":"5960600","tone":"value"},
            {"i":8.03,"p":363.09,"t":"SMA(200):","tone":"label"},{"i":15.51,"p":363.09,"t":"256.28","tone":"sma200"},
            {"i":8.03,"p":357.72,"t":"SMA(50):","tone":"label"},{"i":14.64,"p":357.72,"t":"314.20","tone":"sma50"},
            {"i":8.03,"p":352.35,"t":"SMA(20):","tone":"label"},{"i":14.64,"p":352.35,"t":"328.24","tone":"sma20"}
          ]},
          "mark": {"type": "text", "fontSize": 17.5, "align": "left", "baseline": "middle"},
          "encoding": {
            "text": {"field": "t"},
            "color": {"field": "tone", "type": "nominal", "legend": null, "scale": {"domain": ["label","value","sma200","sma50","sma20"], "range": ["#6a6a64","#4a8fe3","#e0604a","#ff9040","#6cb57a"]}}
          }
        }
      ]
    },
    {
      "encoding": {
        "y": {"field": "p", "type": "quantitative", "title": null, "scale": {"domain": [3.72, 104.4], "range": [1139, 949], "nice": false, "zero": false}, "axis": {"orient": "right", "values": [20,40,60,80,100], "format": ".2f", "grid": true, "labelPadding": 2}}
      },
      "layer": [
        {
          "data": {"values": [{"i":-1.95,"i2":184,"p":79.18}]},
          "mark": {"type": "rule", "color": "#c2555a", "strokeWidth": 4},
          "encoding": {"x2": {"field": "i2"}}
        },
        {
          "data": {"values": [{"i":-1.95,"i2":184,"p":20.29}]},
          "mark": {"type": "rule", "color": "#2a9d80", "strokeWidth": 3.5},
          "encoding": {"x2": {"field": "i2"}}
        },
        {
          "data": {"name": "stochD"},
          "mark": {"type": "line", "color": "#e8644a", "strokeWidth": 1.8}
        },
        {
          "data": {"name": "stochK"},
          "mark": {"type": "line", "color": "#2a9d9a", "strokeWidth": 1.8}
        },
        {
          "data": {"values": [{"i":-2.12,"i2":-1.95,"p":104.4,"p2":3.72}]},
          "mark": {"type": "rect", "fill": "#eceeee"},
          "encoding": {"x2": {"field": "i2"}, "y2": {"field": "p2"}}
        },
        {
          "data": {"values": [{"i":1.42,"p":-4.76,"t":"08.12.2025"}]},
          "mark": {"type": "text", "color": "#6a6a6a", "fontSize": 15, "align": "center", "baseline": "middle"},
          "encoding": {"text": {"field": "t"}}
        },
        {
          "data": {"values": [{"i":-0.96,"p":93.27,"t":"STO %K(20, 5):"}]},
          "mark": {"type": "text", "color": "#6a6a64", "fontSize": 17, "align": "left", "baseline": "middle"},
          "encoding": {"text": {"field": "t"}}
        },
        {
          "data": {"values": [{"i":9.53,"p":93.27,"t":"38.64"}]},
          "mark": {"type": "text", "color": "#2a9d9a", "fontSize": 17, "align": "left", "baseline": "middle"},
          "encoding": {"text": {"field": "t"}}
        },
        {
          "data": {"values": [{"i":14.24,"p":93.27,"t":"62.42"}]},
          "mark": {"type": "text", "color": "#e8644a", "fontSize": 17, "align": "left", "baseline": "middle"},
          "encoding": {"text": {"field": "t"}}
        },
        {
          "data": {"values": [{"i":-1.23,"p":82.66,"t":"79.18"}]},
          "mark": {"type": "text", "color": "#d4605f", "fontSize": 15, "align": "left", "baseline": "middle"},
          "encoding": {"text": {"field": "t"}}
        },
        {
          "data": {"values": [{"i":-1.23,"p":23.97,"t":"20.29"}]},
          "mark": {"type": "text", "color": "#3aa68c", "fontSize": 15, "align": "left", "baseline": "middle"},
          "encoding": {"text": {"field": "t"}}
        }
      ]
    }
  ]
}
